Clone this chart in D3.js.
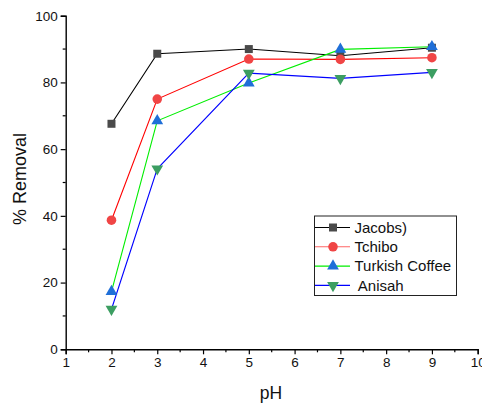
<!DOCTYPE html>
<html><head><meta charset="utf-8">
<script src="https://cdn.jsdelivr.net/npm/d3@7"></script>
<style>body{margin:0;background:#fff}svg{display:block;font-family:"Liberation Sans",Arial,sans-serif}</style>
</head><body><svg id="c" width="482" height="403"></svg>
<script>
const pH = [2, 3, 5, 7, 9];
const jacobs = [67.6, 88.6, 90.0, 88.0, 90.4];
const tchibo = [38.7, 75.0, 87.0, 86.9, 87.4];
const turkish = [17.3, 68.5, 79.8, 89.9, 90.7];
const anisah = [12.0, 54.1, 82.8, 81.2, 83.0];
const seriesNames = ["Jacobs)", "Tchibo", "Turkish Coffee", " Anisah"];
const xTicks = [1,2,3,4,5,6,7,8,9,10];
const yTicks = [0,20,40,60,80,100];

const styles = [
  {line:"#000000", fill:"#4a4a4a", sym:d3.symbolSquare, size:64, rot:0},
  {line:"#ff0000", fill:"#f04545", sym:d3.symbolCircle, size:72, rot:0},
  {line:"#00ee00", fill:"#1f6fd8", sym:d3.symbolTriangle, size:60, rot:0},
  {line:"#0000ff", fill:"#3c9e62", sym:d3.symbolTriangle, size:60, rot:180}
];
const data = [jacobs, tchibo, turkish, anisah];

const svg = d3.select("#c");
const x = d3.scaleLinear().domain([1,10]).range([65.7, 477.7]);
const y = d3.scaleLinear().domain([0,100]).range([349.3, 15.7]);

// axes
const xa = svg.append("g").attr("transform","translate(0,"+y(0)+")")
  .call(d3.axisBottom(x).tickValues(xTicks).tickFormat(d3.format("d")).tickSize(5).tickPadding(3));
const ya = svg.append("g").attr("transform","translate("+x(1)+",0)")
  .call(d3.axisLeft(y).tickValues(yTicks).tickSize(5).tickPadding(3));
[xa,ya].forEach(a=>{
  a.select(".domain").attr("stroke","#000").attr("stroke-width",1.4);
  a.selectAll(".tick line").attr("stroke","#000").attr("stroke-width",1.2);
  a.selectAll("text").attr("font-size",13.5).attr("fill","#111").attr("font-family","Liberation Sans, Arial, sans-serif");
});
// minor ticks
svg.append("g").selectAll("line").data(d3.range(1.5,10,1)).join("line")
  .attr("x1",d=>x(d)).attr("x2",d=>x(d)).attr("y1",y(0)).attr("y2",y(0)+3)
  .attr("stroke","#000").attr("stroke-width",1.2);
svg.append("g").selectAll("line").data(d3.range(10,100,20)).join("line")
  .attr("x1",x(1)).attr("x2",x(1)-3).attr("y1",d=>y(d)).attr("y2",d=>y(d))
  .attr("stroke","#000").attr("stroke-width",1.2);

// axis titles
svg.append("text").attr("x",271).attr("y",399).attr("text-anchor","middle")
  .attr("font-size",17.5).attr("fill","#111").text("pH");
svg.append("text").attr("transform","translate(26,179) rotate(-90)").attr("text-anchor","middle")
  .attr("font-size",18).attr("fill","#111").text("% Removal");

// lines
const line = d3.line().x((d,i)=>x(pH[i])).y(d=>y(d));
data.forEach((s,k)=>{
  svg.append("path").attr("d",line(s)).attr("fill","none")
    .attr("stroke",styles[k].line).attr("stroke-width",1.1);
});
// markers
data.forEach((s,k)=>{
  const st = styles[k];
  svg.append("g").selectAll("path").data(s).join("path")
    .attr("d",d3.symbol().type(st.sym).size(st.size))
    .attr("transform",(d,i)=>"translate("+x(pH[i])+","+y(d)+") rotate("+st.rot+")")
    .attr("fill",st.fill);
});

// legend
const lg = svg.append("g");
lg.append("rect").attr("x",314.5).attr("y",216).attr("width",142).attr("height",79.5)
  .attr("fill","#fff").attr("stroke","#222").attr("stroke-width",1);
seriesNames.forEach((n,k)=>{
  const st = styles[k];
  const yy = 227.5 + k*19.3;
  lg.append("line").attr("x1",315).attr("x2",350).attr("y1",yy).attr("y2",yy)
    .attr("stroke",st.line).attr("stroke-width",1.1).attr("opacity",k==1?0.6:1);
  lg.append("path").attr("d",d3.symbol().type(st.sym).size(st.size))
    .attr("transform","translate(333,"+yy+") rotate("+st.rot+")").attr("fill",st.fill);
  lg.append("text").attr("x",354.5).attr("y",yy+5.3).attr("font-size",15).attr("fill","#111")
    .attr("xml:space","preserve").style("white-space","pre").text(n);
});
</script></body></html>
